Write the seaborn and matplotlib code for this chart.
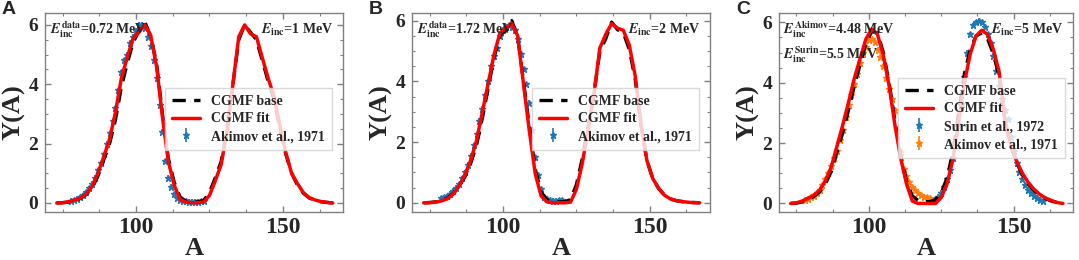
import numpy as np
import matplotlib
matplotlib.use("Agg")
import matplotlib.pyplot as plt
import seaborn as sns
from matplotlib.ticker import MultipleLocator

# mass number grid of the CGMF curves
A_GRID = np.arange(73, 168, 2)

# panel A, E_inc = 1 MeV
base_a = [0.0, 0.01, 0.03, 0.08, 0.15, 0.28, 0.5, 0.9, 1.45, 2.0, 2.8, 3.9, 4.7, 5.4, 5.8, 6.1,
          5.6, 4.7, 3.0, 1.5, 0.7, 0.2, 0.06, 0.03, 0.04, 0.08, 0.35, 0.85, 1.4, 2.5, 4.0, 5.5,
          6.0, 5.75, 5.5, 4.8, 4.1, 3.5, 2.5, 1.65, 1.0, 0.6, 0.33, 0.17, 0.09, 0.04, 0.02, 0.0]
fit_a = [0.0, 0.01, 0.04, 0.1, 0.16, 0.3, 0.55, 1.0, 1.55, 2.15, 3.05, 4.2, 4.9, 5.55, 5.75, 6.0,
         5.65, 4.6, 2.9, 1.4, 0.6, 0.12, 0.03, 0.01, 0.01, 0.03, 0.25, 0.75, 1.3, 2.4, 4.0, 5.6,
         6.0, 5.7, 5.6, 4.9, 4.2, 3.6, 2.6, 1.7, 1.0, 0.65, 0.35, 0.18, 0.1, 0.05, 0.02, 0.0]

# panel B, E_inc = 2 MeV
base_b = [0.0, 0.01, 0.03, 0.07, 0.15, 0.3, 0.55, 0.85, 1.3, 1.9, 2.8, 3.8, 4.8, 5.5, 5.7, 6.0,
          5.45, 4.0, 2.5, 1.1, 0.35, 0.1, 0.04, 0.03, 0.04, 0.1, 0.6, 1.45, 2.5, 3.6, 5.0, 5.4,
          5.95, 5.7, 5.6, 5.05, 4.1, 2.55, 1.4, 0.8, 0.47, 0.25, 0.13, 0.07, 0.04, 0.02, 0.01, 0.0]
fit_b = [0.0, 0.0, 0.02, 0.06, 0.13, 0.28, 0.55, 0.9, 1.4, 2.05, 3.0, 3.95, 4.9, 5.6, 5.75, 5.9,
         5.5, 3.9, 2.35, 0.95, 0.22, 0.03, 0.0, 0.0, 0.0, 0.02, 0.44, 1.3, 2.4, 3.6, 5.1, 5.55,
         5.9, 5.75, 5.68, 5.2, 4.2, 2.6, 1.4, 0.8, 0.48, 0.25, 0.13, 0.07, 0.04, 0.02, 0.0, 0.0]

# panel C, E_inc = 5 MeV
base_c = [0.0, 0.01, 0.05, 0.13, 0.23, 0.38, 0.65, 1.05, 1.7, 2.35, 3.1, 3.9, 4.6, 5.3, 5.7, 5.65,
          5.0, 4.0, 2.75, 1.6, 0.75, 0.25, 0.1, 0.06, 0.06, 0.12, 0.35, 0.85, 1.7, 3.0, 4.3, 5.1,
          5.55, 5.65, 5.45, 4.95, 4.2, 2.7, 1.9, 1.35, 0.95, 0.65, 0.43, 0.27, 0.16, 0.08, 0.03, 0.0]
fit_c = [0.0, 0.02, 0.08, 0.17, 0.28, 0.44, 0.75, 1.2, 1.9, 2.6, 3.35, 4.15, 4.8, 5.45, 5.78, 5.6,
         4.9, 3.9, 2.6, 1.5, 0.65, 0.08, 0.0, 0.0, 0.0, 0.0, 0.2, 0.65, 1.45, 2.7, 4.0, 4.95,
         5.55, 5.74, 5.6, 5.1, 4.35, 2.75, 1.95, 1.4, 1.0, 0.7, 0.47, 0.3, 0.18, 0.1, 0.03, 0.0]

# Akimov et al., 1971 (0.72 MeV)
akimov_a_x = np.arange(78, 124)
akimov_a_y = [0.08, 0.1, 0.14, 0.2, 0.26, 0.36, 0.5, 0.65, 0.85, 1.1, 1.35, 1.65, 2.0, 2.35, 2.75,
              3.2, 3.8, 4.4, 4.8, 5.0, 5.4, 5.6, 5.8, 6.0, 6.0, 5.9, 5.6, 5.3, 4.8, 4.2, 3.3, 2.4,
              1.4, 0.85, 0.55, 0.3, 0.17, 0.1, 0.07, 0.06, 0.05, 0.05, 0.05, 0.05, 0.06, 0.08]

# Akimov et al., 1971 (1.72 MeV)
akimov_b_x = np.arange(79, 121)
akimov_b_y = [0.15, 0.18, 0.22, 0.3, 0.4, 0.5, 0.62, 0.8, 1.0, 1.25, 1.55, 1.9, 2.25, 2.7, 3.1,
              3.55, 4.0, 4.5, 4.85, 5.1, 5.5, 5.7, 5.8, 5.85, 5.8, 5.7, 5.4, 4.9, 4.4, 3.9, 3.3,
              2.4, 1.5, 0.9, 0.45, 0.2, 0.12, 0.08, 0.07, 0.07, 0.08, 0.08]

# Akimov et al., 1971 (4.48 MeV)
akimov_c_x = np.arange(78, 122)
akimov_c_y = [0.12, 0.16, 0.2, 0.25, 0.33, 0.45, 0.6, 0.8, 1.0, 1.25, 1.5, 1.75, 2.1, 2.45, 2.85,
              3.25, 3.6, 3.95, 4.3, 4.65, 5.0, 5.2, 5.4, 5.45, 5.35, 5.1, 4.85, 4.55, 4.15, 3.8,
              3.45, 3.1, 2.4, 1.7, 1.15, 0.9, 0.7, 0.55, 0.45, 0.35, 0.28, 0.23, 0.2, 0.18]

# Surin et al., 1972 (5.5 MeV)
surin_c_x = np.arange(122, 161)
surin_c_y = [0.1, 0.15, 0.22, 0.35, 0.55, 0.8, 1.1, 1.5, 2.0, 2.6, 3.3, 4.2, 5.0, 5.6, 5.9, 6.0,
             6.05, 6.0, 5.85, 5.6, 5.3, 4.9, 4.4, 3.9, 3.45, 3.1, 2.8, 2.2, 1.75, 1.35, 1.05, 0.8,
             0.6, 0.45, 0.35, 0.25, 0.18, 0.12, 0.08]

DATA_ERR = 0.08

sns.set_style("ticks")
plt.rcParams['font.family'] = ['Liberation Serif', 'DejaVu Serif']
plt.rcParams['font.weight'] = 'bold'
plt.rcParams['mathtext.fontset'] = 'stix'

BLUE = '#1f77b4'
ORANGE = '#ff7f0e'
SPINE = '#808080'

fig = plt.figure(figsize=(10.79, 2.6), dpi=100)
positions = [[0.0417, 0.185, 0.2762, 0.765],
             [0.3818, 0.185, 0.2762, 0.765],
             [0.7220, 0.185, 0.2725, 0.765]]
ylims = [(-0.3, 6.4), (-0.3, 6.25), (-0.28, 6.31)]
letters = ['A', 'B', 'C']
bases = [base_a, base_b, base_c]
fits = [fit_a, fit_b, fit_c]
right_txt = [r'$E_{\rm inc}$=1 MeV', r'$E_{\rm inc}$=2 MeV', r'$E_{\rm inc}$=5 MeV']

for i in range(3):
    ax = fig.add_axes(positions[i])
    sns.lineplot(x=A_GRID, y=bases[i], ax=ax, color='black', lw=2.4,
                 linestyle=(0, (4, 2.5)), label='CGMF base')
    sns.lineplot(x=A_GRID, y=fits[i], ax=ax, color='red', lw=2.5, label='CGMF fit')
    if i == 0:
        ax.errorbar(akimov_a_x, akimov_a_y, yerr=DATA_ERR, fmt='*', ms=5, color=BLUE,
                    elinewidth=1.2, label='Akimov et al., 1971', zorder=1)
    elif i == 1:
        ax.errorbar(akimov_b_x, akimov_b_y, yerr=DATA_ERR, fmt='*', ms=5, color=BLUE,
                    elinewidth=1.2, label='Akimov et al., 1971', zorder=1)
    else:
        ax.errorbar(surin_c_x, surin_c_y, yerr=DATA_ERR, fmt='*', ms=5, color=BLUE,
                    elinewidth=1.2, label='Surin et al., 1972', zorder=1)
        ax.errorbar(akimov_c_x, akimov_c_y, yerr=DATA_ERR, fmt='*', ms=5, color=ORANGE,
                    elinewidth=1.2, label='Akimov et al., 1971', zorder=1)

    ax.set_xlim(69, 170.5)
    ax.set_ylim(*ylims[i])
    ax.xaxis.set_major_locator(MultipleLocator(50))
    ax.xaxis.set_minor_locator(MultipleLocator(12.5))
    ax.yaxis.set_major_locator(MultipleLocator(2))
    ax.yaxis.set_minor_locator(MultipleLocator(0.5))
    ax.tick_params(which='both', direction='in', top=True, right=True, color=SPINE)
    ax.tick_params(which='major', length=4.5, width=1)
    ax.tick_params(which='minor', length=2.5, width=0.8)
    ax.tick_params(axis='x', labelsize=17, pad=4)
    ax.tick_params(axis='y', labelsize=14, pad=5)
    for s in ax.spines.values():
        s.set_color(SPINE)
        s.set_linewidth(1)
    ax.set_xlabel('A', fontsize=19, fontweight='bold', labelpad=-1)
    ax.set_ylabel('Y(A)', fontsize=19, fontweight='bold', labelpad=2)

    if i == 2:
        ax.legend(loc='upper right', bbox_to_anchor=(0.995, 0.71), fontsize=10,
                  frameon=True, fancybox=False, edgecolor='#d0d0d0', borderpad=0.5,
                  labelspacing=0.35)
        ax.text(0.014, 0.915, r'$E_{\rm inc}^{\rm Akimov}$=4.48 MeV', transform=ax.transAxes,
                fontsize=10, fontweight='bold', va='center', ha='left')
        ax.text(0.014, 0.79, r'$E_{\rm inc}^{\rm Surin}$=5.5 MeV', transform=ax.transAxes,
                fontsize=10, fontweight='bold', va='center', ha='left')
    else:
        ax.legend(loc='upper right', bbox_to_anchor=(0.985, 0.66), fontsize=10,
                  frameon=True, fancybox=False, edgecolor='#d0d0d0', borderpad=0.5,
                  labelspacing=0.35)
        edata = '0.72' if i == 0 else '1.72'
        ax.text(0.017, 0.915, r'$E_{\rm inc}^{\rm data}$=' + edata + ' MeV',
                transform=ax.transAxes, fontsize=10, fontweight='bold', va='center', ha='left')
    ax.text(0.966, 0.915, right_txt[i], transform=ax.transAxes, fontsize=10,
            fontweight='bold', va='center', ha='right')

    fig.text(positions[i][0] - 0.04, 0.998, letters[i], fontsize=14, fontweight='bold',
             family=['Liberation Sans', 'DejaVu Sans'], va='top', ha='left')

fig.savefig('out.png', dpi=100)
